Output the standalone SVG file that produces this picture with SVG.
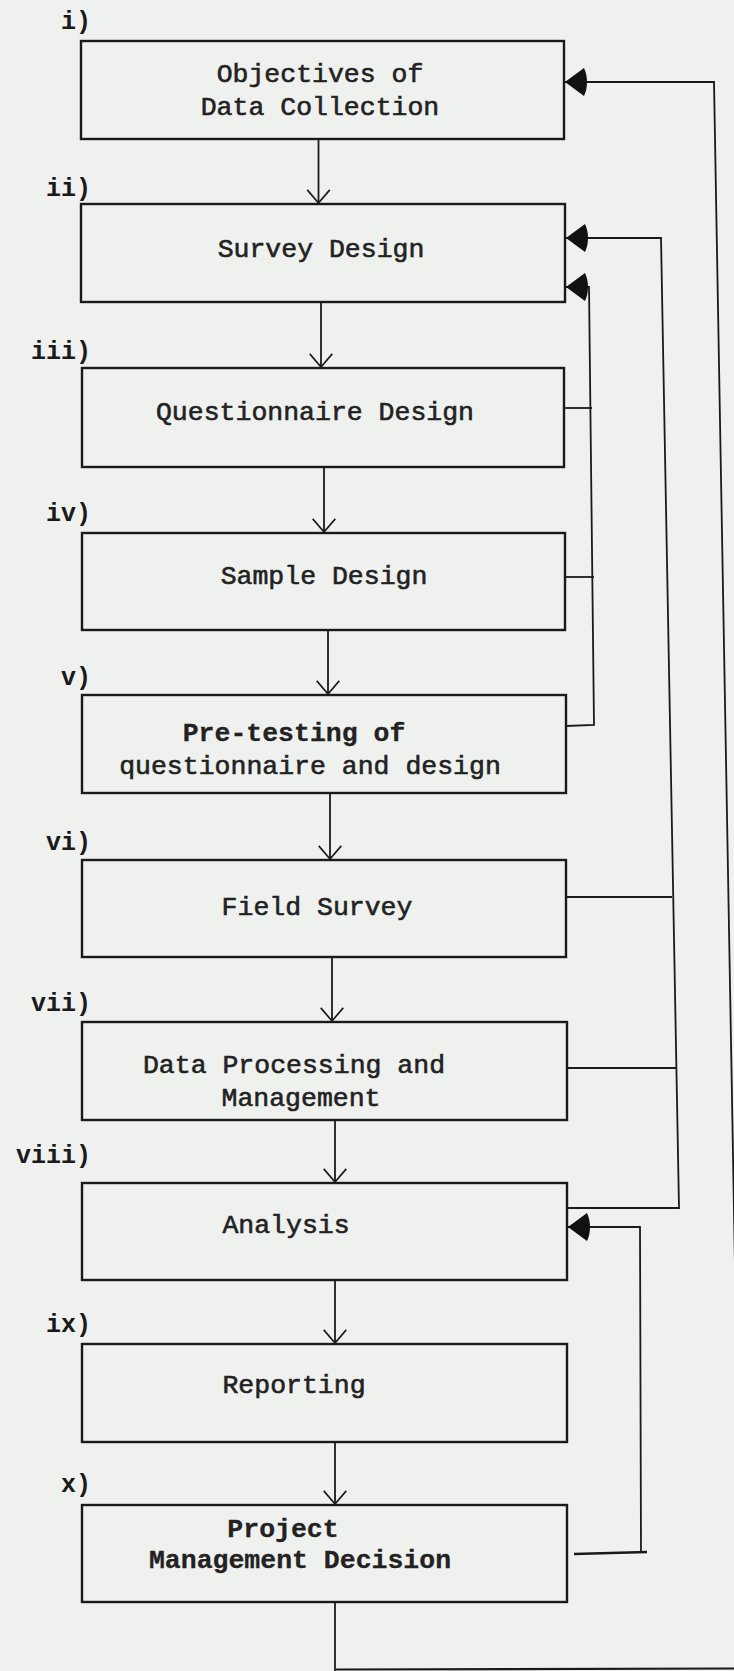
<svg xmlns="http://www.w3.org/2000/svg" width="734" height="1671" viewBox="0 0 734 1671">
<style>
.bg{fill:#eff1ee}
.box{fill:none;stroke:#1a1a1a;stroke-width:2.4}
.t{font-family:"Liberation Mono","DejaVu Sans Mono",monospace;font-size:26.5px;fill:#222;stroke:#222;stroke-width:0.6;text-anchor:middle}
.b{font-weight:bold;stroke-width:0.3}
.lab{font-family:"Liberation Mono","DejaVu Sans Mono",monospace;font-size:25px;font-weight:bold;fill:#1a1a1a;text-anchor:end}
.ln{fill:none;stroke:#1a1a1a;stroke-width:1.8}
.down{marker-end:url(#vee)}
.fb{marker-end:url(#fill)}
</style>
<defs>
<marker id="vee" markerUnits="userSpaceOnUse" markerWidth="30" markerHeight="30" viewBox="-16 -16 32 32" refX="0" refY="0" orient="auto" overflow="visible">
<path d="M-14,-12 L0,0 L-14,12" fill="none" stroke="#1a1a1a" stroke-width="1.8"/>
</marker>
<marker id="fill" markerUnits="userSpaceOnUse" markerWidth="30" markerHeight="34" viewBox="-24 -17 26 34" refX="0" refY="0" orient="auto" overflow="visible">
<path d="M0,0 L-19,-14 C-23,-6 -23,6 -19,14 Z" fill="#111"/>
</marker>
</defs>
<rect class="bg" x="0" y="0" width="734" height="1671"/>

<g id="n1"><rect class="box" x="81" y="41" width="483" height="98"/><text class="lab" x="91" y="29">i)</text><text class="t" x="320" y="82">Objectives of</text><text class="t" x="320" y="115">Data Collection</text></g>
<g id="n2"><rect class="box" x="81" y="204" width="484" height="98"/><text class="lab" x="91" y="196">ii)</text><text class="t" x="321" y="257">Survey Design</text></g>
<g id="n3"><rect class="box" x="82" y="368" width="482" height="99"/><text class="lab" x="91" y="359">iii)</text><text class="t" x="315" y="420">Questionnaire Design</text></g>
<g id="n4"><rect class="box" x="82" y="533" width="483" height="97"/><text class="lab" x="91" y="521">iv)</text><text class="t" x="324" y="584">Sample Design</text></g>
<g id="n5"><rect class="box" x="82" y="695" width="484" height="98"/><text class="lab" x="91" y="685">v)</text><text class="t b" x="294" y="741">Pre-testing of</text><text class="t" x="310" y="774">questionnaire and design</text></g>
<g id="n6"><rect class="box" x="82" y="860" width="484" height="97"/><text class="lab" x="91" y="850">vi)</text><text class="t" x="317" y="915">Field Survey</text></g>
<g id="n7"><rect class="box" x="82" y="1022" width="485" height="98"/><text class="lab" x="91" y="1011">vii)</text><text class="t" x="294" y="1073">Data Processing and</text><text class="t" x="301" y="1106">Management</text></g>
<g id="n8"><rect class="box" x="82" y="1183" width="485" height="97"/><text class="lab" x="91" y="1163">viii)</text><text class="t" x="286" y="1233">Analysis</text></g>
<g id="n9"><rect class="box" x="82" y="1344" width="485" height="98"/><text class="lab" x="91" y="1332">ix)</text><text class="t" x="294" y="1393">Reporting</text></g>
<g id="n10"><rect class="box" x="82" y="1505" width="485" height="97"/><text class="lab" x="91" y="1492">x)</text><text class="t b" x="283" y="1537">Project</text><text class="t b" x="300" y="1568">Management Decision</text></g>

<g id="connectors">
<path class="ln down" d="M318.5,139 L318.5,203"/>
<path class="ln down" d="M321,302 L321,367"/>
<path class="ln down" d="M324,467 L324,532"/>
<path class="ln down" d="M328,630 L328,694"/>
<path class="ln down" d="M330,793 L330,859"/>
<path class="ln down" d="M332,957 L332,1021"/>
<path class="ln down" d="M335,1120 L335,1182"/>
<path class="ln down" d="M335,1280 L335,1343"/>
<path class="ln down" d="M335,1442 L335,1504"/>
<path class="ln" d="M335,1602 L335,1671"/>
<path class="ln" d="M336,1669.5 L734,1668.5" style="stroke-width:2.2"/>

<path class="ln fb" d="M566,726 L594,725 L589,287 L566,287"/>
<path class="ln" d="M564,408 L592,408"/>
<path class="ln" d="M565,577 L594,577"/>

<path class="ln fb" d="M567,1208 L679,1208 L661,238 L566,238"/>
<path class="ln" d="M566,897 L672,897"/>
<path class="ln" d="M567,1068 L677,1068"/>

<path class="ln fb" d="M641,1553 L640,1227 L568,1227"/>
<path class="ln" d="M574,1554 L647,1552" style="stroke-width:2.4"/>

<path class="ln fb" d="M736.5,1352 L714,82 L565,82"/>
</g>
</svg>
